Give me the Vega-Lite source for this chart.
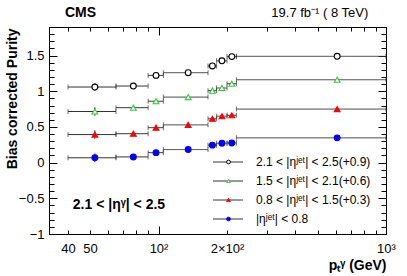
{
  "$schema": "https://vega.github.io/schema/vega-lite/v6.json",
  "width": 337,
  "height": 207,
  "autosize": "none",
  "padding": {"left": 49, "top": 27, "right": 21, "bottom": 42},
  "background": "white",
  "config": {
    "font": "Liberation Sans",
    "view": {"stroke": "black", "strokeWidth": 1},
    "axis": {"domainColor": "black", "tickColor": "black", "labelColor": "black", "titleColor": "black", "grid": false, "labelFont": "Liberation Sans", "titleFont": "Liberation Sans"}
  },
  "datasets": {
    "purity": [
      {"series": "2.1 < |ηʲᵉᵗ| < 2.5(+0.9)", "ord": 1, "lo": 40, "hi": 65, "pt": 52.5, "val": 1.059, "ylo": 1.004, "yhi": 1.114},
      {"series": "2.1 < |ηʲᵉᵗ| < 2.5(+0.9)", "ord": 1, "lo": 65, "hi": 90, "pt": 77.5, "val": 1.073, "ylo": 1.048, "yhi": 1.098},
      {"series": "2.1 < |ηʲᵉᵗ| < 2.5(+0.9)", "ord": 1, "lo": 90, "hi": 105, "pt": 97.5, "val": 1.222, "ylo": 1.202, "yhi": 1.242},
      {"series": "2.1 < |ηʲᵉᵗ| < 2.5(+0.9)", "ord": 1, "lo": 105, "hi": 165, "pt": 135, "val": 1.26, "ylo": 1.245, "yhi": 1.275},
      {"series": "2.1 < |ηʲᵉᵗ| < 2.5(+0.9)", "ord": 1, "lo": 165, "hi": 180, "pt": 172.5, "val": 1.354, "ylo": 1.334, "yhi": 1.374},
      {"series": "2.1 < |ηʲᵉᵗ| < 2.5(+0.9)", "ord": 1, "lo": 180, "hi": 200, "pt": 190, "val": 1.426, "ylo": 1.406, "yhi": 1.446},
      {"series": "2.1 < |ηʲᵉᵗ| < 2.5(+0.9)", "ord": 1, "lo": 200, "hi": 220, "pt": 210, "val": 1.485, "ylo": 1.465, "yhi": 1.505},
      {"series": "2.1 < |ηʲᵉᵗ| < 2.5(+0.9)", "ord": 1, "lo": 220, "hi": 1000, "pt": 610, "val": 1.489, "ylo": 1.474, "yhi": 1.504},
      {"series": "1.5 < |ηʲᵉᵗ| < 2.1(+0.6)", "ord": 2, "lo": 40, "hi": 65, "pt": 52.5, "val": 0.716, "ylo": 0.656, "yhi": 0.776},
      {"series": "1.5 < |ηʲᵉᵗ| < 2.1(+0.6)", "ord": 2, "lo": 65, "hi": 90, "pt": 77.5, "val": 0.77, "ylo": 0.745, "yhi": 0.795},
      {"series": "1.5 < |ηʲᵉᵗ| < 2.1(+0.6)", "ord": 2, "lo": 90, "hi": 105, "pt": 97.5, "val": 0.86, "ylo": 0.84, "yhi": 0.88},
      {"series": "1.5 < |ηʲᵉᵗ| < 2.1(+0.6)", "ord": 2, "lo": 105, "hi": 165, "pt": 135, "val": 0.918, "ylo": 0.903, "yhi": 0.933},
      {"series": "1.5 < |ηʲᵉᵗ| < 2.1(+0.6)", "ord": 2, "lo": 165, "hi": 180, "pt": 172.5, "val": 1.008, "ylo": 0.988, "yhi": 1.028},
      {"series": "1.5 < |ηʲᵉᵗ| < 2.1(+0.6)", "ord": 2, "lo": 180, "hi": 200, "pt": 190, "val": 1.045, "ylo": 1.025, "yhi": 1.065},
      {"series": "1.5 < |ηʲᵉᵗ| < 2.1(+0.6)", "ord": 2, "lo": 200, "hi": 220, "pt": 210, "val": 1.105, "ylo": 1.085, "yhi": 1.125},
      {"series": "1.5 < |ηʲᵉᵗ| < 2.1(+0.6)", "ord": 2, "lo": 220, "hi": 1000, "pt": 610, "val": 1.161, "ylo": 1.146, "yhi": 1.176},
      {"series": "0.8 < |ηʲᵉᵗ| < 1.5(+0.3)", "ord": 3, "lo": 40, "hi": 65, "pt": 52.5, "val": 0.393, "ylo": 0.333, "yhi": 0.453},
      {"series": "0.8 < |ηʲᵉᵗ| < 1.5(+0.3)", "ord": 3, "lo": 65, "hi": 90, "pt": 77.5, "val": 0.405, "ylo": 0.38, "yhi": 0.43},
      {"series": "0.8 < |ηʲᵉᵗ| < 1.5(+0.3)", "ord": 3, "lo": 90, "hi": 105, "pt": 97.5, "val": 0.49, "ylo": 0.47, "yhi": 0.51},
      {"series": "0.8 < |ηʲᵉᵗ| < 1.5(+0.3)", "ord": 3, "lo": 105, "hi": 165, "pt": 135, "val": 0.529, "ylo": 0.514, "yhi": 0.544},
      {"series": "0.8 < |ηʲᵉᵗ| < 1.5(+0.3)", "ord": 3, "lo": 165, "hi": 180, "pt": 172.5, "val": 0.614, "ylo": 0.594, "yhi": 0.634},
      {"series": "0.8 < |ηʲᵉᵗ| < 1.5(+0.3)", "ord": 3, "lo": 180, "hi": 200, "pt": 190, "val": 0.65, "ylo": 0.63, "yhi": 0.67},
      {"series": "0.8 < |ηʲᵉᵗ| < 1.5(+0.3)", "ord": 3, "lo": 200, "hi": 220, "pt": 210, "val": 0.663, "ylo": 0.643, "yhi": 0.683},
      {"series": "0.8 < |ηʲᵉᵗ| < 1.5(+0.3)", "ord": 3, "lo": 220, "hi": 1000, "pt": 610, "val": 0.75, "ylo": 0.735, "yhi": 0.765},
      {"series": "|ηʲᵉᵗ| < 0.8", "ord": 4, "lo": 40, "hi": 65, "pt": 52.5, "val": 0.068, "ylo": 0.008, "yhi": 0.128},
      {"series": "|ηʲᵉᵗ| < 0.8", "ord": 4, "lo": 65, "hi": 90, "pt": 77.5, "val": 0.08, "ylo": 0.055, "yhi": 0.105},
      {"series": "|ηʲᵉᵗ| < 0.8", "ord": 4, "lo": 90, "hi": 105, "pt": 97.5, "val": 0.14, "ylo": 0.12, "yhi": 0.16},
      {"series": "|ηʲᵉᵗ| < 0.8", "ord": 4, "lo": 105, "hi": 165, "pt": 135, "val": 0.183, "ylo": 0.168, "yhi": 0.198},
      {"series": "|ηʲᵉᵗ| < 0.8", "ord": 4, "lo": 165, "hi": 180, "pt": 172.5, "val": 0.245, "ylo": 0.225, "yhi": 0.265},
      {"series": "|ηʲᵉᵗ| < 0.8", "ord": 4, "lo": 180, "hi": 200, "pt": 190, "val": 0.272, "ylo": 0.252, "yhi": 0.292},
      {"series": "|ηʲᵉᵗ| < 0.8", "ord": 4, "lo": 200, "hi": 220, "pt": 210, "val": 0.275, "ylo": 0.255, "yhi": 0.295},
      {"series": "|ηʲᵉᵗ| < 0.8", "ord": 4, "lo": 220, "hi": 1000, "pt": 610, "val": 0.347, "ylo": 0.332, "yhi": 0.362}
    ]
  },
  "data": {"name": "purity"},
  "resolve": {"axis": {"x": "independent", "y": "independent"}},
  "layer": [
    {
      "mark": {"type": "rule", "stroke": "#333333", "strokeWidth": 1},
      "encoding": {
        "x": {"field": "lo", "type": "quantitative", "scale": {"type": "log", "domain": [33, 1000], "nice": false},
          "axis": {
            "orient": "bottom",
            "values": [40, 50, 60, 70, 80, 90, 100, 200, 300, 400, 500, 600, 700, 800, 900, 1000],
            "tickSize": {"condition": {"test": "datum.value == 100 || datum.value == 1000", "value": -8}, "value": -4},
            "labelPadding": {"condition": {"test": "datum.value == 100 || datum.value == 1000", "value": 16}, "value": 12},
            "labelExpr": "datum.value == 40 ? '40' : datum.value == 50 ? '50' : datum.value == 100 ? '10²' : datum.value == 200 ? '2×10²' : datum.value == 1000 ? '10³' : ''",
            "labelFontSize": 13,
            "labelFlush": false,
            "labelOverlap": false,
            "labelBound": false,
            "title": "pₜᵞ (GeV)",
            "titleFontSize": 14,
            "titleFontWeight": "bold",
            "titleX": 337,
            "titleY": 35,
            "titleAlign": "right",
            "titleBaseline": "alphabetic"
          }},
        "x2": {"field": "hi"},
        "y": {"field": "val", "type": "quantitative", "scale": {"domain": [-1, 1.9], "nice": false, "zero": false},
          "axis": {
            "orient": "left",
            "values": [-1, -0.9, -0.8, -0.7, -0.6, -0.5, -0.4, -0.3, -0.2, -0.1, 0, 0.1, 0.2, 0.3, 0.4, 0.5, 0.6, 0.7, 0.8, 0.9, 1, 1.1, 1.2, 1.3, 1.4, 1.5, 1.6, 1.7, 1.8, 1.9],
            "tickSize": {"condition": {"test": "abs(datum.value * 2 - round(datum.value * 2)) < 0.001", "value": -8}, "value": -5},
            "labelPadding": 13,
            "format": "~g",
            "labelExpr": "abs(datum.value * 2 - round(datum.value * 2)) < 0.001 ? datum.label : ''",
            "labelFontSize": 13,
            "labelOverlap": false,
            "labelFlush": false,
            "labelBound": false,
            "title": "Bias corrected Purity",
            "titleFontSize": 14,
            "titleFontWeight": "bold",
            "titleAngle": -90,
            "titleX": -37,
            "titleY": 1,
            "titleAlign": "right",
            "titleBaseline": "middle"
          }},
        "strokeDash": {"field": "series", "type": "nominal", "sort": {"field": "ord", "op": "min"},
          "scale": {"range": [[1, 0], [1, 0], [1, 0], [1, 0]]},
          "legend": {"orient": "none", "legendX": 173, "legendY": 129, "title": null, "zindex": 1,
            "symbolType": "M-6,0H6", "symbolSize": 25, "symbolStrokeColor": "#333333", "symbolStrokeWidth": 1, "symbolFillColor": "transparent",
            "labelFontSize": 12, "labelOpacity": 0, "rowPadding": 7, "labelOffset": 21, "padding": 0}}
      }
    },
    {
      "mark": {"type": "tick", "orient": "vertical", "size": 5, "thickness": 1, "color": "#333333"},
      "encoding": {
        "x": {"field": "lo", "type": "quantitative", "axis": null},
        "y": {"field": "val", "type": "quantitative", "axis": null}
      }
    },
    {
      "mark": {"type": "tick", "orient": "vertical", "size": 5, "thickness": 1, "color": "#333333"},
      "encoding": {
        "x": {"field": "hi", "type": "quantitative", "axis": null},
        "y": {"field": "val", "type": "quantitative", "axis": null}
      }
    },
    {
      "mark": {"type": "rule", "stroke": "#333333", "strokeWidth": 1},
      "encoding": {
        "x": {"field": "pt", "type": "quantitative", "axis": null},
        "y": {"field": "ylo", "type": "quantitative", "axis": null},
        "y2": {"field": "yhi"}
      }
    },
    {
      "mark": {"type": "point", "size": 34, "strokeWidth": 1.1, "opacity": 1, "fillOpacity": 1},
      "encoding": {
        "x": {"field": "pt", "type": "quantitative", "axis": null},
        "y": {"field": "val", "type": "quantitative", "axis": null},
        "shape": {"field": "series", "type": "nominal",
          "scale": {"domain": ["2.1 < |ηʲᵉᵗ| < 2.5(+0.9)", "1.5 < |ηʲᵉᵗ| < 2.1(+0.6)", "0.8 < |ηʲᵉᵗ| < 1.5(+0.3)", "|ηʲᵉᵗ| < 0.8"], "range": ["circle", "triangle-up", "triangle-up", "circle"]},
          "legend": {"orient": "none", "legendX": 173.5, "legendY": 129, "title": null, "zindex": 2, "symbolSize": 14, "symbolStrokeWidth": 1, "labelFontSize": 12, "labelColor": "black", "rowPadding": 7, "labelOffset": 21.5, "padding": 0}},
        "stroke": {"field": "series", "type": "nominal",
          "scale": {"domain": ["2.1 < |ηʲᵉᵗ| < 2.5(+0.9)", "1.5 < |ηʲᵉᵗ| < 2.1(+0.6)", "0.8 < |ηʲᵉᵗ| < 1.5(+0.3)", "|ηʲᵉᵗ| < 0.8"], "range": ["black", "#33cc33", "#ff0000", "#0000ff"]},
          "legend": {"orient": "none", "legendX": 173.5, "legendY": 129, "title": null, "zindex": 2, "symbolSize": 14, "symbolStrokeWidth": 1, "labelFontSize": 12, "labelColor": "black", "rowPadding": 7, "labelOffset": 21.5, "padding": 0}},
        "fill": {"field": "series", "type": "nominal",
          "scale": {"domain": ["2.1 < |ηʲᵉᵗ| < 2.5(+0.9)", "1.5 < |ηʲᵉᵗ| < 2.1(+0.6)", "0.8 < |ηʲᵉᵗ| < 1.5(+0.3)", "|ηʲᵉᵗ| < 0.8"], "range": ["white", "white", "#ff0000", "#0000ff"]},
          "legend": {"orient": "none", "legendX": 173.5, "legendY": 129, "title": null, "zindex": 2, "symbolSize": 14, "symbolStrokeWidth": 1, "labelFontSize": 12, "labelColor": "black", "rowPadding": 7, "labelOffset": 21.5, "padding": 0}}
      }
    },
    {
      "mark": {"type": "point", "opacity": 0},
      "encoding": {
        "x": {"field": "pt", "type": "quantitative",
          "axis": {"orient": "top", "values": [40, 50, 60, 70, 80, 90, 100, 200, 300, 400, 500, 600, 700, 800, 900, 1000], "labels": false, "title": null,
            "tickSize": {"condition": {"test": "datum.value == 100 || datum.value == 1000", "value": -8}, "value": -4}}},
        "y": {"field": "val", "type": "quantitative",
          "axis": {"orient": "right", "values": [-1, -0.9, -0.8, -0.7, -0.6, -0.5, -0.4, -0.3, -0.2, -0.1, 0, 0.1, 0.2, 0.3, 0.4, 0.5, 0.6, 0.7, 0.8, 0.9, 1, 1.1, 1.2, 1.3, 1.4, 1.5, 1.6, 1.7, 1.8, 1.9], "labels": false, "title": null,
            "tickSize": {"condition": {"test": "abs(datum.value * 2 - round(datum.value * 2)) < 0.001", "value": -8}, "value": -5}}}
      }
    },
    {
      "data": {"values": [{"label": "CMS"}]},
      "mark": {"type": "text", "align": "left", "baseline": "middle", "fontSize": 14, "fontWeight": "bold", "color": "black"},
      "encoding": {
        "x": {"datum": 38.8, "type": "quantitative", "axis": null},
        "y": {"datum": 2.1, "type": "quantitative", "axis": null},
        "text": {"field": "label"}
      }
    },
    {
      "data": {"values": [{"label": "19.7 fb⁻¹ ( 8 TeV)"}]},
      "mark": {"type": "text", "align": "right", "baseline": "middle", "fontSize": 13, "color": "black"},
      "encoding": {
        "x": {"datum": 836, "type": "quantitative", "axis": null},
        "y": {"datum": 2.1, "type": "quantitative", "axis": null},
        "text": {"field": "label"}
      }
    },
    {
      "data": {"values": [{"label": "2.1 < |ηᵞ| < 2.5"}]},
      "mark": {"type": "text", "align": "left", "baseline": "middle", "fontSize": 14, "fontWeight": "bold", "color": "black"},
      "encoding": {
        "x": {"datum": 42, "type": "quantitative", "axis": null},
        "y": {"datum": -0.6, "type": "quantitative", "axis": null},
        "text": {"field": "label"}
      }
    }
  ]
}
